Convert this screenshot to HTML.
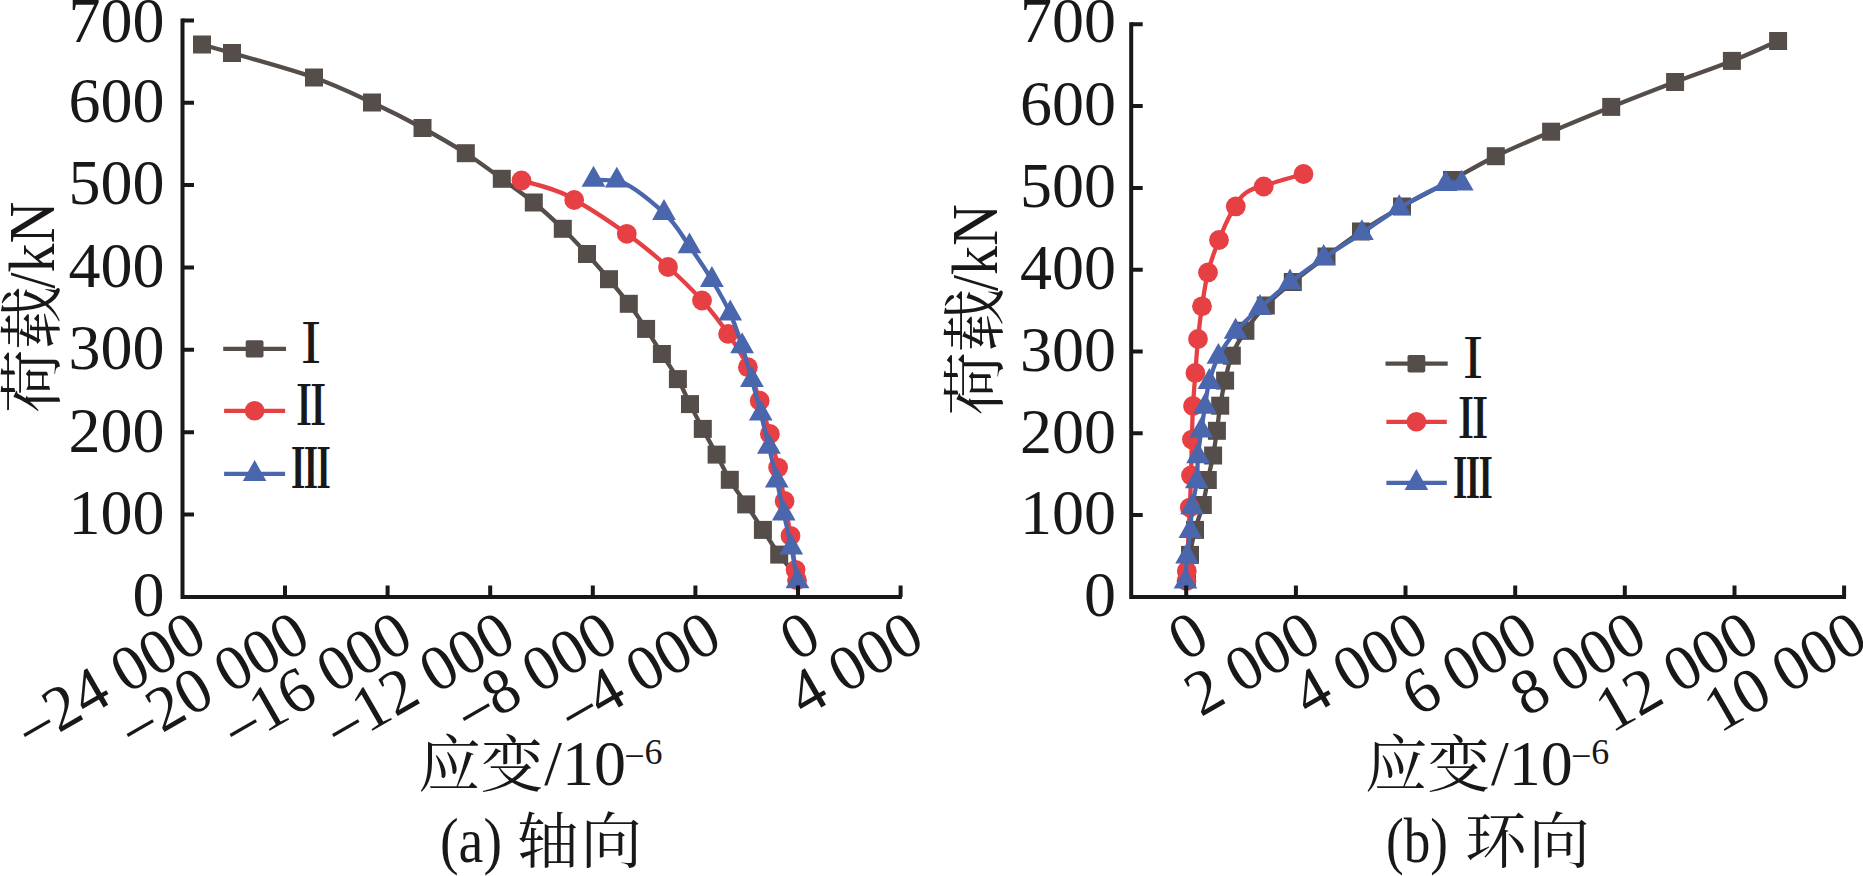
<!DOCTYPE html>
<html lang="zh"><head><meta charset="utf-8"><title>荷载/kN 应变/10−6</title>
<style>
html,body{margin:0;padding:0;background:#fff;}
svg{display:block;}
.lat{font-family:"Liberation Serif",serif;}
.cjk{font-family:"Liberation Serif","Noto Serif CJK SC",serif;}
.rom{font-family:"Noto Serif CJK SC","DejaVu Serif",serif;}
</style></head><body>
<svg width="1863" height="876" viewBox="0 0 1863 876">
<rect width="1863" height="876" fill="#fff"/>
<g fill="#554d49" stroke="none"><path d="M202.0 44.5 C212.0 47.3 213.3 47.5 232.0 53.0 C250.7 58.5 290.7 69.2 314.0 77.5 C337.3 85.8 353.9 94.1 372.0 102.5 C390.1 110.9 406.9 119.5 422.5 128.0 C438.1 136.5 452.5 144.8 465.8 153.2 C479.0 161.7 490.4 170.5 501.8 178.8 C513.1 187.0 523.6 194.2 533.8 202.5 C543.9 210.8 553.9 220.2 562.8 228.8 C571.6 237.3 579.3 245.6 587.0 254.0 C594.7 262.4 602.0 270.9 609.0 279.2 C616.0 287.6 622.6 295.5 628.8 303.8 C635.0 312.1 640.6 320.5 646.1 328.9 C651.6 337.3 656.6 345.6 661.9 354.0 C667.2 362.4 673.2 370.8 677.9 379.1 C682.6 387.5 685.9 395.8 690.0 404.1 C694.1 412.4 698.4 420.5 702.8 428.9 C707.2 437.3 712.1 446.1 716.6 454.6 C721.1 463.1 724.9 471.5 729.8 479.8 C734.7 488.1 740.7 496.0 746.2 504.4 C751.7 512.8 757.4 521.5 762.9 529.9 C768.4 538.3 773.8 547.1 779.2 554.6 C784.6 562.1 790.1 568.2 795.5 575.0" fill="none" stroke="#554d49" stroke-width="4.3" stroke-linejoin="round" stroke-linecap="round"/><rect x="193.0" y="35.5" width="18.0" height="18.0"/><rect x="223.0" y="44.0" width="18.0" height="18.0"/><rect x="305.0" y="68.5" width="18.0" height="18.0"/><rect x="363.0" y="93.5" width="18.0" height="18.0"/><rect x="413.5" y="119.0" width="18.0" height="18.0"/><rect x="456.8" y="144.2" width="18.0" height="18.0"/><rect x="492.8" y="169.8" width="18.0" height="18.0"/><rect x="524.8" y="193.5" width="18.0" height="18.0"/><rect x="553.8" y="219.8" width="18.0" height="18.0"/><rect x="578.0" y="245.0" width="18.0" height="18.0"/><rect x="600.0" y="270.2" width="18.0" height="18.0"/><rect x="619.8" y="294.8" width="18.0" height="18.0"/><rect x="637.1" y="319.9" width="18.0" height="18.0"/><rect x="652.9" y="345.0" width="18.0" height="18.0"/><rect x="668.9" y="370.1" width="18.0" height="18.0"/><rect x="681.0" y="395.1" width="18.0" height="18.0"/><rect x="693.8" y="419.9" width="18.0" height="18.0"/><rect x="707.6" y="445.6" width="18.0" height="18.0"/><rect x="720.8" y="470.8" width="18.0" height="18.0"/><rect x="737.2" y="495.4" width="18.0" height="18.0"/><rect x="753.9" y="520.9" width="18.0" height="18.0"/><rect x="770.2" y="545.6" width="18.0" height="18.0"/></g>
<g fill="#e63f44" stroke="none"><path d="M521.5 180.5 C535.5 184.5 564.2 191.0 574.2 200.0 C591.8 208.9 611.1 222.6 626.8 233.8 C642.4 244.9 655.5 255.9 668.0 267.0 C680.5 278.1 692.0 289.4 702.0 300.5 C712.0 311.6 720.5 322.8 728.1 333.9 C735.8 345.0 742.6 356.1 747.9 367.2 C753.2 378.3 756.0 389.6 759.7 400.7 C763.4 411.8 766.8 422.8 769.9 433.9 C773.0 445.0 775.6 456.4 778.1 467.6 C780.6 478.8 782.5 489.5 784.6 500.9 C786.7 512.3 788.7 524.3 790.5 535.8 C792.3 547.3 794.5 562.4 795.6 569.8 C796.7 577.2 796.5 576.8 797.0 580.3" fill="none" stroke="#e63f44" stroke-width="4.3" stroke-linejoin="round" stroke-linecap="round"/><circle cx="521.5" cy="180.5" r="9.9"/><circle cx="574.2" cy="200.0" r="9.9"/><circle cx="626.8" cy="233.8" r="9.9"/><circle cx="668.0" cy="267.0" r="9.9"/><circle cx="702.0" cy="300.5" r="9.9"/><circle cx="728.1" cy="333.9" r="9.9"/><circle cx="747.9" cy="367.2" r="9.9"/><circle cx="759.7" cy="400.7" r="9.9"/><circle cx="769.9" cy="433.9" r="9.9"/><circle cx="778.1" cy="467.6" r="9.9"/><circle cx="784.6" cy="500.9" r="9.9"/><circle cx="790.5" cy="535.8" r="9.9"/><circle cx="795.6" cy="569.8" r="9.9"/><circle cx="797.0" cy="580.3" r="9.9"/></g>
<g fill="#4a66ad" stroke="none"><path d="M593.5 179.7 L616.8 180.6 C630.8 183.1 651.9 201.9 664.0 212.9 C676.1 223.9 681.5 235.1 689.5 246.3 C697.5 257.5 705.1 268.8 711.9 280.0 C718.7 291.2 725.2 302.5 730.2 313.5 C735.2 324.5 738.5 335.1 742.1 346.2 C745.7 357.3 748.8 368.8 751.9 380.0 C755.0 391.2 758.0 402.4 760.8 413.5 C763.6 424.6 766.2 435.5 768.9 446.7 C771.6 457.9 774.3 469.5 776.8 480.6 C779.3 491.7 781.4 502.4 783.8 513.5 C786.2 524.6 789.0 536.1 791.3 547.4 C793.6 558.7 795.4 570.0 797.5 581.3" fill="none" stroke="#4a66ad" stroke-width="4.3" stroke-linejoin="round" stroke-linecap="round"/><polygon points="593.5,165.8 581.6,186.7 605.4,186.7"/><polygon points="616.8,166.7 604.9,187.6 628.6,187.6"/><polygon points="664.0,199.0 652.1,219.9 675.9,219.9"/><polygon points="689.5,232.4 677.6,253.3 701.4,253.3"/><polygon points="711.9,266.1 700.0,287.0 723.8,287.0"/><polygon points="730.2,299.6 718.4,320.5 742.1,320.5"/><polygon points="742.1,332.3 730.2,353.2 754.0,353.2"/><polygon points="751.9,366.1 740.0,387.0 763.8,387.0"/><polygon points="760.8,399.6 748.9,420.5 772.6,420.5"/><polygon points="768.9,432.8 757.0,453.7 780.8,453.7"/><polygon points="776.8,466.7 764.9,487.6 788.6,487.6"/><polygon points="783.8,499.6 771.9,520.5 795.6,520.5"/><polygon points="791.3,533.5 779.4,554.4 803.1,554.4"/><polygon points="797.5,567.4 785.6,588.3 809.4,588.3"/></g>
<g stroke="#1a1718" stroke-width="4" fill="none" stroke-linecap="butt"><path d="M182.5 18.4 V596.9 H901.9"/><path d="M182.5 514.5 h11.5M182.5 432.2 h11.5M182.5 349.8 h11.5M182.5 267.5 h11.5M182.5 185.1 h11.5M182.5 102.7 h11.5M182.5 20.4 h11.5M285.0 596.9 v-11.5M387.6 596.9 v-11.5M490.2 596.9 v-11.5M592.8 596.9 v-11.5M695.4 596.9 v-11.5M798.0 596.9 v-11.5M900.6 596.9 v-11.5"/></g>
<g class="lat" font-size="64" fill="#1a1718" text-anchor="end"><text x="164.5" y="616.2">0</text><text x="164.5" y="533.8">100</text><text x="164.5" y="451.5">200</text><text x="164.5" y="369.1">300</text><text x="164.5" y="286.8">400</text><text x="164.5" y="204.4">500</text><text x="164.5" y="122.0">600</text><text x="164.5" y="42.0">700</text></g>
<g class="lat" font-size="64" fill="#1a1718" text-anchor="end" style="word-spacing:-1.5px"><text transform="translate(209.7 646.2) rotate(-30)"><tspan dy="5.8">−</tspan><tspan dy="-5.8" dx="-2">24 000</tspan></text><text transform="translate(313.1 646.2) rotate(-30)"><tspan dy="5.8">−</tspan><tspan dy="-5.8" dx="-2">20 000</tspan></text><text transform="translate(415.9 646.2) rotate(-30)"><tspan dy="5.8">−</tspan><tspan dy="-5.8" dx="-2">16 000</tspan></text><text transform="translate(518.6 646.2) rotate(-30)"><tspan dy="5.8">−</tspan><tspan dy="-5.8" dx="-2">12 000</tspan></text><text transform="translate(621.2 646.2) rotate(-30)"><tspan dy="5.8">−</tspan><tspan dy="-5.8" dx="-2">8 000</tspan></text><text transform="translate(724.8 646.2) rotate(-30)"><tspan dy="5.8">−</tspan><tspan dy="-5.8" dx="-2">4 000</tspan></text><text transform="translate(824.0 646.2) rotate(-30)">0</text><text transform="translate(927.3 646.2) rotate(-30)">4 000</text></g>
<g fill="#554d49"><path d="M223.2 348.9H286.0" stroke="#554d49" stroke-width="4.3" fill="none"/><rect x="245.7" y="340.2" width="17.8" height="17.4" rx="1.8"/></g><text class="rom" font-size="55.3" font-weight="700" fill="#1a1718" text-anchor="middle" transform="translate(311.0 362.8) scale(0.735 1)">Ⅰ</text>
<g fill="#e63f44"><path d="M224.1 410.8H285.1" stroke="#e63f44" stroke-width="4.3" fill="none"/><circle cx="254.6" cy="410.8" r="9.8"/></g><text class="rom" font-size="55.3" font-weight="700" fill="#1a1718" text-anchor="middle" transform="translate(311.0 424.9) scale(0.710 1)">Ⅱ</text>
<g fill="#4a66ad"><path d="M224.1 473.9H285.1" stroke="#4a66ad" stroke-width="4.3" fill="none"/><polygon points="254.6,460.0 242.8,480.9 266.4,480.9"/></g><text class="rom" font-size="55.3" font-weight="700" fill="#1a1718" text-anchor="middle" transform="translate(311.0 488.0) scale(0.720 1)">Ⅲ</text>
<text fill="#1a1718"><tspan class="cjk" font-size="62.5" x="418.3" y="787">应变</tspan><tspan class="lat" font-size="64" x="544.3" y="785">/10</tspan><tspan class="lat" font-size="36" x="624.3" y="768">−</tspan><tspan class="lat" font-size="36" x="644.6" y="764">6</tspan></text>
<text fill="#1a1718"><tspan class="lat" font-size="64" x="440.0" y="861.7" textLength="62" lengthAdjust="spacingAndGlyphs">(a)</tspan> <tspan class="cjk" font-size="61.5" x="517.0" y="862.5">轴</tspan><tspan class="cjk" font-size="61.5" x="580.5" y="862.5">向</tspan></text>
<g fill="#554d49" stroke="none"><path d="M1778.1 41.0 C1762.7 47.6 1749.1 54.1 1731.9 60.9 C1714.7 67.7 1695.2 74.3 1675.1 82.0 C1655.0 89.7 1631.9 98.6 1611.2 106.9 C1590.5 115.2 1570.3 123.5 1551.1 131.7 C1531.9 139.9 1512.3 148.1 1495.8 156.2 C1479.2 164.2 1467.6 171.6 1452.0 180.0 C1436.4 188.4 1417.2 197.9 1402.0 206.5 C1386.8 215.1 1373.6 223.2 1361.0 231.5 C1348.4 239.8 1337.9 248.1 1326.5 256.5 C1315.1 264.9 1302.9 273.8 1292.8 282.0 C1282.7 290.2 1273.7 297.4 1265.8 305.5 C1257.9 313.6 1251.1 322.4 1245.4 330.8 C1239.7 339.2 1235.2 347.4 1231.8 355.7 C1228.4 364.0 1227.0 372.3 1225.1 380.6 C1223.2 388.9 1221.6 397.3 1220.2 405.7 C1218.8 414.1 1218.1 422.5 1216.9 430.8 C1215.7 439.1 1214.6 447.3 1213.1 455.5 C1211.6 463.7 1209.5 471.8 1207.8 480.0 C1206.1 488.2 1204.9 496.7 1202.8 505.0 C1200.7 513.3 1197.1 521.6 1195.0 529.9 C1192.9 538.2 1191.3 546.9 1190.0 554.9 C1188.7 562.9 1188.0 570.3 1187.0 578.0" fill="none" stroke="#554d49" stroke-width="4.3" stroke-linejoin="round" stroke-linecap="round"/><rect x="1769.1" y="32.0" width="18.0" height="18.0"/><rect x="1722.9" y="51.9" width="18.0" height="18.0"/><rect x="1666.1" y="73.0" width="18.0" height="18.0"/><rect x="1602.2" y="97.9" width="18.0" height="18.0"/><rect x="1542.1" y="122.7" width="18.0" height="18.0"/><rect x="1486.8" y="147.2" width="18.0" height="18.0"/><rect x="1443.0" y="171.0" width="18.0" height="18.0"/><rect x="1393.0" y="197.5" width="18.0" height="18.0"/><rect x="1352.0" y="222.5" width="18.0" height="18.0"/><rect x="1317.5" y="247.5" width="18.0" height="18.0"/><rect x="1283.8" y="273.0" width="18.0" height="18.0"/><rect x="1256.8" y="296.5" width="18.0" height="18.0"/><rect x="1236.4" y="321.8" width="18.0" height="18.0"/><rect x="1222.8" y="346.7" width="18.0" height="18.0"/><rect x="1216.1" y="371.6" width="18.0" height="18.0"/><rect x="1211.2" y="396.7" width="18.0" height="18.0"/><rect x="1207.9" y="421.8" width="18.0" height="18.0"/><rect x="1204.1" y="446.5" width="18.0" height="18.0"/><rect x="1198.8" y="471.0" width="18.0" height="18.0"/><rect x="1193.8" y="496.0" width="18.0" height="18.0"/><rect x="1186.0" y="520.9" width="18.0" height="18.0"/><rect x="1181.0" y="545.9" width="18.0" height="18.0"/><rect x="1178.0" y="569.0" width="18.0" height="18.0"/></g>
<g fill="#e63f44" stroke="none"><path d="M1303.5 174.0 C1290.2 178.2 1275.0 181.1 1263.7 186.5 C1250.7 187.7 1239.8 194.9 1235.8 206.4 C1228.3 215.3 1223.6 229.0 1219.0 240.0 C1214.4 251.0 1210.8 261.3 1208.0 272.4 C1205.2 283.4 1203.7 295.2 1202.0 306.3 C1200.3 317.4 1199.1 327.9 1198.0 339.0 C1196.9 350.1 1196.2 361.7 1195.4 372.9 C1194.6 384.1 1193.6 394.9 1193.0 406.0 C1192.4 417.1 1192.2 428.0 1191.9 439.6 C1191.6 451.2 1191.3 464.1 1191.0 475.4 C1190.7 486.7 1190.5 491.7 1189.8 507.6 C1189.1 523.5 1187.3 558.8 1186.8 571.0 C1186.2 583.2 1186.6 577.7 1186.5 581.0" fill="none" stroke="#e63f44" stroke-width="4.3" stroke-linejoin="round" stroke-linecap="round"/><circle cx="1303.5" cy="174.0" r="9.9"/><circle cx="1263.7" cy="186.5" r="9.9"/><circle cx="1235.8" cy="206.4" r="9.9"/><circle cx="1219.0" cy="240.0" r="9.9"/><circle cx="1208.0" cy="272.4" r="9.9"/><circle cx="1202.0" cy="306.3" r="9.9"/><circle cx="1198.0" cy="339.0" r="9.9"/><circle cx="1195.4" cy="372.9" r="9.9"/><circle cx="1193.0" cy="406.0" r="9.9"/><circle cx="1191.9" cy="439.6" r="9.9"/><circle cx="1191.0" cy="475.4" r="9.9"/><circle cx="1189.8" cy="507.6" r="9.9"/><circle cx="1186.8" cy="571.0" r="9.9"/><circle cx="1186.5" cy="581.0" r="9.9"/></g>
<g fill="#4a66ad" stroke="none"><path d="M1461.8 183.6 C1456.4 183.8 1456.1 180.0 1445.7 184.1 C1435.3 188.2 1413.2 199.9 1399.2 208.1 C1385.2 216.3 1374.5 224.8 1361.9 233.1 C1349.3 241.4 1335.7 249.8 1323.7 258.0 C1311.7 266.2 1300.6 274.2 1290.0 282.5 C1279.4 290.8 1269.1 299.7 1260.0 307.9 C1250.9 316.1 1242.5 323.5 1235.6 331.7 C1228.7 339.9 1222.8 348.4 1218.4 356.8 C1214.0 365.2 1211.5 373.6 1209.3 381.9 C1207.0 390.2 1206.2 398.6 1204.9 406.7 C1203.6 414.8 1202.5 422.1 1201.3 430.4 C1200.1 438.6 1198.8 447.7 1198.0 456.2 C1197.2 464.7 1197.8 472.8 1196.8 481.3 C1195.8 489.8 1193.2 498.9 1192.1 507.2 C1191.0 515.5 1191.1 522.8 1190.3 531.0 C1189.5 539.2 1187.8 548.1 1187.0 556.5 C1186.2 564.9 1186.0 573.2 1185.5 581.6" fill="none" stroke="#4a66ad" stroke-width="4.3" stroke-linejoin="round" stroke-linecap="round"/><polygon points="1461.8,169.7 1450.0,190.6 1473.6,190.6"/><polygon points="1445.7,170.2 1433.9,191.1 1457.5,191.1"/><polygon points="1399.2,194.2 1387.4,215.1 1411.0,215.1"/><polygon points="1361.9,219.2 1350.1,240.1 1373.8,240.1"/><polygon points="1323.7,244.1 1311.9,265.0 1335.5,265.0"/><polygon points="1290.0,268.6 1278.2,289.5 1301.8,289.5"/><polygon points="1260.0,294.0 1248.2,314.9 1271.8,314.9"/><polygon points="1235.6,317.8 1223.8,338.7 1247.4,338.7"/><polygon points="1218.4,342.9 1206.6,363.8 1230.2,363.8"/><polygon points="1209.3,368.0 1197.5,388.9 1221.1,388.9"/><polygon points="1204.9,392.8 1193.1,413.7 1216.8,413.7"/><polygon points="1201.3,416.5 1189.5,437.4 1213.1,437.4"/><polygon points="1198.0,442.3 1186.2,463.2 1209.8,463.2"/><polygon points="1196.8,467.4 1185.0,488.3 1208.6,488.3"/><polygon points="1192.1,493.3 1180.2,514.2 1203.9,514.2"/><polygon points="1190.3,517.1 1178.5,538.0 1202.1,538.0"/><polygon points="1187.0,542.6 1175.2,563.5 1198.8,563.5"/><polygon points="1185.5,567.7 1173.7,588.6 1197.3,588.6"/></g>
<g stroke="#1a1718" stroke-width="4" fill="none" stroke-linecap="butt"><path d="M1131.2 22.3 V596.9 H1846.0"/><path d="M1131.2 515.1 h11.5M1131.2 433.3 h11.5M1131.2 351.5 h11.5M1131.2 269.7 h11.5M1131.2 187.9 h11.5M1131.2 106.1 h11.5M1131.2 24.3 h11.5M1186.2 596.9 v-11.5M1295.9 596.9 v-11.5M1405.5 596.9 v-11.5M1515.2 596.9 v-11.5M1624.8 596.9 v-11.5M1734.5 596.9 v-11.5M1844.1 596.9 v-11.5"/></g>
<g class="lat" font-size="64" fill="#1a1718" text-anchor="end"><text x="1116.0" y="616.2">0</text><text x="1116.0" y="534.4">100</text><text x="1116.0" y="452.6">200</text><text x="1116.0" y="370.8">300</text><text x="1116.0" y="289.0">400</text><text x="1116.0" y="207.2">500</text><text x="1116.0" y="125.4">600</text><text x="1116.0" y="42.0">700</text></g>
<g class="lat" font-size="64" fill="#1a1718" text-anchor="end" style="word-spacing:-1.5px"><text transform="translate(1212.3 646.2) rotate(-30)">0</text><text transform="translate(1324.2 646.2) rotate(-30)">2 000</text><text transform="translate(1432.0 646.2) rotate(-30)">4 000</text><text transform="translate(1541.2 646.2) rotate(-30)">6 000</text><text transform="translate(1649.9 646.2) rotate(-30)">8 000</text><text transform="translate(1762.5 646.2) rotate(-30)">12 000</text><text transform="translate(1870.8 646.2) rotate(-30)">10 000</text></g>
<g fill="#554d49"><path d="M1385.5 363.7H1447.7" stroke="#554d49" stroke-width="4.3" fill="none"/><rect x="1407.5" y="355.0" width="17.8" height="17.4" rx="1.8"/></g><text class="rom" font-size="55.3" font-weight="700" fill="#1a1718" text-anchor="middle" transform="translate(1473.0 378.1) scale(0.735 1)">Ⅰ</text>
<g fill="#e63f44"><path d="M1386.4 421.8H1446.8" stroke="#e63f44" stroke-width="4.3" fill="none"/><circle cx="1416.4" cy="421.8" r="9.8"/></g><text class="rom" font-size="55.3" font-weight="700" fill="#1a1718" text-anchor="middle" transform="translate(1473.0 437.7) scale(0.710 1)">Ⅱ</text>
<g fill="#4a66ad"><path d="M1386.4 482.9H1446.8" stroke="#4a66ad" stroke-width="4.3" fill="none"/><polygon points="1416.4,469.0 1404.6,489.9 1428.2,489.9"/></g><text class="rom" font-size="55.3" font-weight="700" fill="#1a1718" text-anchor="middle" transform="translate(1473.0 497.7) scale(0.720 1)">Ⅲ</text>
<text fill="#1a1718"><tspan class="cjk" font-size="62.5" x="1365.0" y="787">应变</tspan><tspan class="lat" font-size="64" x="1491.0" y="785">/10</tspan><tspan class="lat" font-size="36" x="1571.0" y="768">−</tspan><tspan class="lat" font-size="36" x="1591.3" y="764">6</tspan></text>
<text fill="#1a1718"><tspan class="lat" font-size="64" x="1386.0" y="861.7" textLength="62" lengthAdjust="spacingAndGlyphs">(b)</tspan> <tspan class="cjk" font-size="61.5" x="1465.0" y="862.5">环</tspan><tspan class="cjk" font-size="61.5" x="1528.5" y="862.5">向</tspan></text>
<text fill="#1a1718" transform="translate(54.0 309.5) rotate(-90)"><tspan class="cjk" font-size="63.5" x="-103.4" y="0">荷载</tspan><tspan class="lat" font-size="65" x="21" y="0" textLength="87" lengthAdjust="spacingAndGlyphs">/kN</tspan></text>
<text fill="#1a1718" transform="translate(996.5 312.0) rotate(-90)"><tspan class="cjk" font-size="63.5" x="-103.4" y="0">荷载</tspan><tspan class="lat" font-size="65" x="21" y="0" textLength="87" lengthAdjust="spacingAndGlyphs">/kN</tspan></text>
</svg>
</body></html>
